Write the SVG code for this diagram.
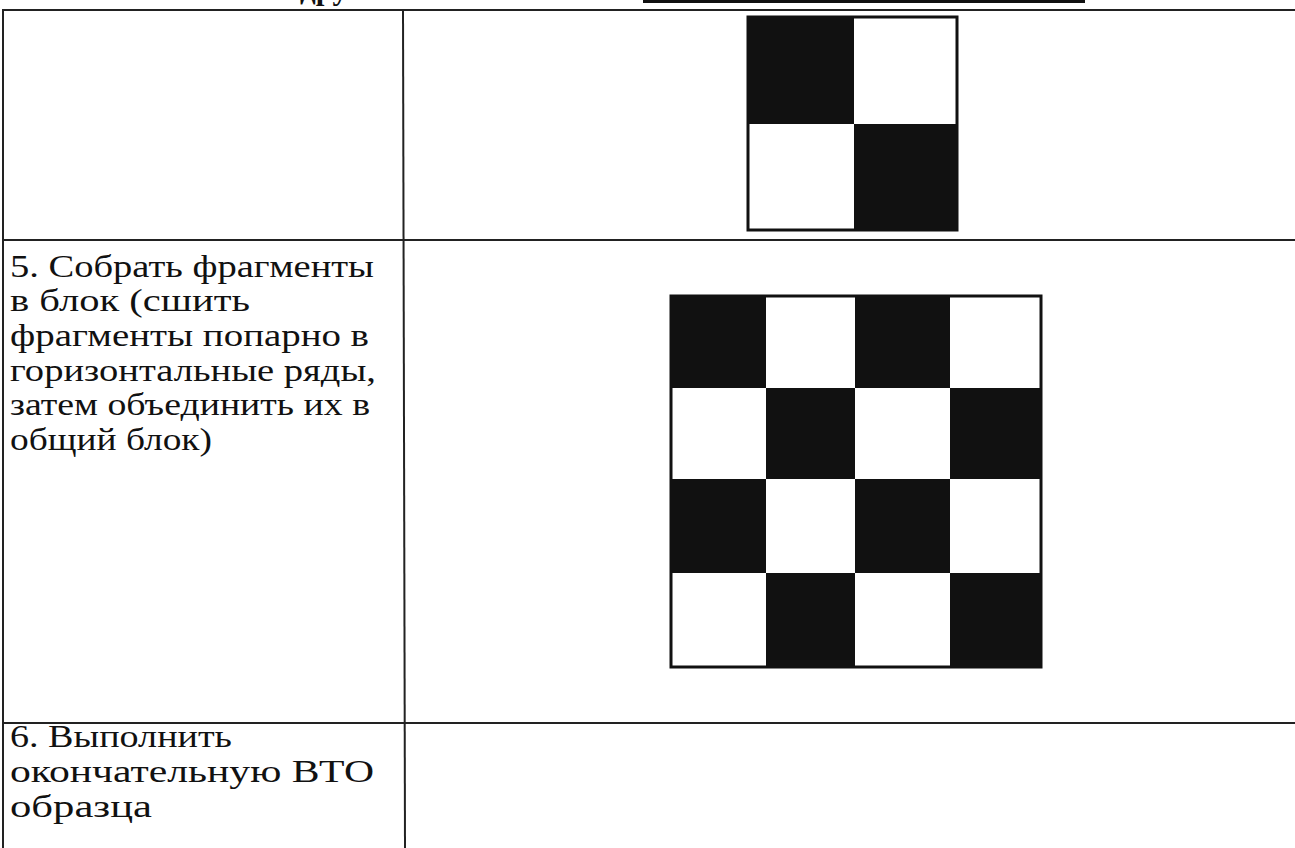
<svg xmlns="http://www.w3.org/2000/svg" width="1295" height="848" viewBox="0 0 1295 848">
<style>
.grid{stroke:#222;stroke-width:2;fill:none}
.b{fill:#111}
.frame{fill:#fff;stroke:#111;stroke-width:3}
.t{font-family:'Liberation Serif','DejaVu Serif',serif;font-size:31px;fill:#111}
</style>
<rect width="1295" height="848" fill="#fff"/>
<text class="t" x="300" y="-1" font-weight="bold">дру</text>
<rect x="643" y="0" width="442" height="3" class="b"/>
<g id="table">
<line class="grid" x1="2" y1="10" x2="1295" y2="10"/>
<line class="grid" x1="2" y1="240" x2="1295" y2="240"/>
<line class="grid" x1="2" y1="723" x2="1295" y2="723"/>
<line class="grid" x1="3" y1="10" x2="3" y2="848"/>
<line class="grid" x1="403" y1="10" x2="405" y2="848"/>
</g>
<g id="row4">
<rect class="frame" x="748" y="17" width="209" height="213"/>
<rect class="b" x="748" y="17" width="106" height="107"/>
<rect class="b" x="854" y="124" width="103" height="106"/>
</g>
<g id="row5">
<text class="t" x="10" y="277" textLength="364" lengthAdjust="spacingAndGlyphs">5. Собрать фрагменты</text>
<text class="t" x="10" y="311" textLength="240" lengthAdjust="spacingAndGlyphs">в блок (сшить</text>
<text class="t" x="10" y="346" textLength="359" lengthAdjust="spacingAndGlyphs">фрагменты попарно в</text>
<text class="t" x="10" y="381" textLength="366" lengthAdjust="spacingAndGlyphs">горизонтальные ряды,</text>
<text class="t" x="10" y="415" textLength="360" lengthAdjust="spacingAndGlyphs">затем объединить их в</text>
<text class="t" x="10" y="450" textLength="202" lengthAdjust="spacingAndGlyphs">общий блок)</text>
<rect class="frame" x="671" y="296" width="370" height="371"/>
<rect class="b" x="671" y="296" width="95" height="92"/>
<rect class="b" x="855" y="296" width="95" height="92"/>
<rect class="b" x="766" y="388" width="89" height="91"/>
<rect class="b" x="950" y="388" width="91" height="91"/>
<rect class="b" x="671" y="479" width="95" height="94"/>
<rect class="b" x="855" y="479" width="95" height="94"/>
<rect class="b" x="766" y="573" width="89" height="94"/>
<rect class="b" x="950" y="573" width="91" height="94"/>
</g>
<g id="row6">
<text class="t" x="10" y="747" textLength="222" lengthAdjust="spacingAndGlyphs">6. Выполнить</text>
<text class="t" x="10" y="782" textLength="364" lengthAdjust="spacingAndGlyphs">окончательную ВТО</text>
<text class="t" x="10" y="817" textLength="142" lengthAdjust="spacingAndGlyphs">образца</text>
</g>
</svg>
